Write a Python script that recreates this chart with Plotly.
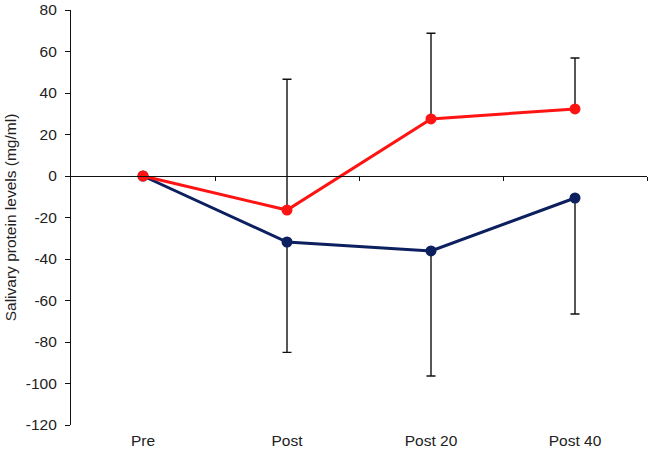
import plotly.graph_objects as go

categories = ["Pre", "Post", "Post 20", "Post 40"]
red_values = [0, -16.4, 27.5, 32.3]
red_err_up = [0, 63.0, 41.3, 24.6]
blue_values = [0, -31.8, -36.1, -10.6]
blue_err_down = [0, 53.2, 60.3, 55.9]
y_ticks = list(range(-120, 81, 20))
y_tick_labels = [str(v) for v in y_ticks]  # plain hyphen minus like the original

x_idx = list(range(len(categories)))
boundaries = [i + 0.5 for i in x_idx]

fig = go.Figure()

fig.add_trace(go.Scatter(
    x=x_idx, y=blue_values, mode="lines+markers",
    line=dict(color="#0c1f5e", width=3),
    marker=dict(color="#0c1f5e", size=11),
    error_y=dict(type="data", symmetric=False, array=[0] * len(blue_values),
                 arrayminus=blue_err_down, color="#111111", thickness=1.4, width=4.5),
    showlegend=False,
))
fig.add_trace(go.Scatter(
    x=x_idx, y=red_values, mode="lines+markers",
    line=dict(color="#ff1414", width=3),
    marker=dict(color="#ff1414", size=11),
    error_y=dict(type="data", symmetric=False, array=red_err_up,
                 arrayminus=[0] * len(red_values), color="#111111", thickness=1.4, width=4.5),
    showlegend=False,
))

# invisible trace on the overlay axis so it gets drawn (zero-level category axis)
fig.add_trace(go.Scatter(x=[x_idx[0]], y=[0], xaxis="x2", mode="markers",
                         marker=dict(opacity=0), showlegend=False, hoverinfo="skip"))

fig.update_layout(
    width=650, height=456,
    margin=dict(l=71, r=3, t=10, b=31),
    paper_bgcolor="white", plot_bgcolor="white",
    font=dict(family="Arial, Liberation Sans, sans-serif", size=15, color="#222222"),
    xaxis=dict(
        range=[-0.5, 3.5], tickmode="array", tickvals=x_idx, ticktext=categories,
        showline=False, showgrid=False, zeroline=False, ticks="",
        ticklabelstandoff=4, tickfont=dict(size=15.5), automargin=False,
    ),
    xaxis2=dict(
        overlaying="x", anchor="free", position=0.6, matches="x",
        range=[-0.5, 3.5], tickmode="array", tickvals=boundaries,
        showticklabels=False, showline=True, linecolor="#111111", linewidth=1.2,
        ticks="outside", ticklen=4, tickcolor="#111111", tickwidth=1.2,
        showgrid=False, zeroline=False, side="bottom", automargin=False,
    ),
    yaxis=dict(
        range=[-120, 80], tickmode="array", tickvals=y_ticks, ticktext=y_tick_labels,
        showline=True, linecolor="#111111", linewidth=1.2,
        ticks="outside", ticklen=5, tickcolor="#111111", tickwidth=1.2,
        showgrid=False, zeroline=False, tickfont=dict(size=15.5),
        ticklabelstandoff=5, automargin=False,
        title=dict(text="Salivary protein levels (mg/ml)", font=dict(size=15.5), standoff=5),
    ),
)

# drop the browser's default 8px body margin so the figure sits at the page corner
fig.write_html("out.html", config={"displayModeBar": False},
               post_script="document.body.style.margin = '0';")
